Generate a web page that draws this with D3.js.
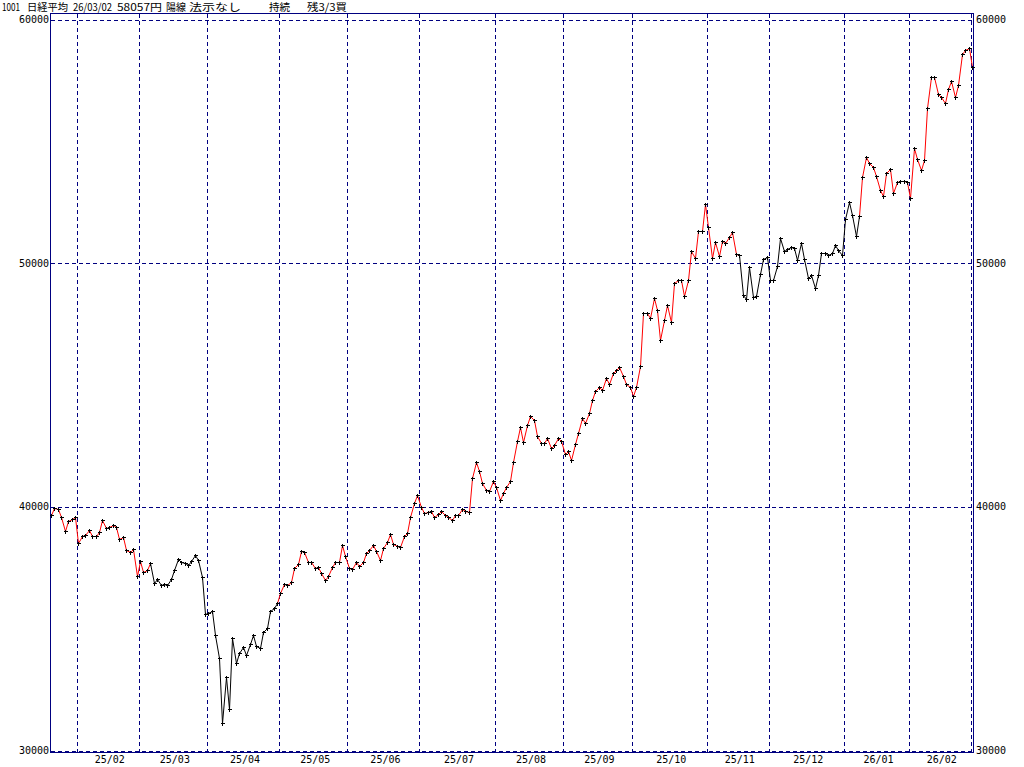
<!DOCTYPE html>
<html><head><meta charset="utf-8">
<script src="https://cdn.jsdelivr.net/npm/d3@7"></script>
<style>
html,body{margin:0;padding:0;background:#fff;overflow:hidden}
svg{display:block}
</style></head>
<body>
<svg id="c" width="1024" height="767"></svg>
<script>
// ---- data ----
const titleParts = ["1001", "日経平均", "26/03/02", "58057円", "陽線", "法示なし", "持続", "残3/3買"];
const dates = [
"25/01/22","25/01/23","25/01/24","25/01/27","25/01/28","25/01/29","25/01/30","25/01/31",
"25/02/03","25/02/04","25/02/05","25/02/06","25/02/07","25/02/10","25/02/12","25/02/13","25/02/14","25/02/17","25/02/18","25/02/19","25/02/20","25/02/21","25/02/25","25/02/26","25/02/27","25/02/28",
"25/03/03","25/03/04","25/03/05","25/03/06","25/03/07","25/03/10","25/03/11","25/03/12","25/03/13","25/03/14","25/03/17","25/03/18","25/03/19","25/03/21","25/03/24","25/03/25","25/03/26","25/03/27","25/03/28","25/03/31",
"25/04/01","25/04/02","25/04/03","25/04/04","25/04/07","25/04/08","25/04/09","25/04/10","25/04/11","25/04/14","25/04/15","25/04/16","25/04/17","25/04/18","25/04/21","25/04/22","25/04/23","25/04/24","25/04/25","25/04/28","25/04/30",
"25/05/01","25/05/02","25/05/07","25/05/08","25/05/09","25/05/12","25/05/13","25/05/14","25/05/15","25/05/16","25/05/19","25/05/20","25/05/21","25/05/22","25/05/23","25/05/26","25/05/27","25/05/28","25/05/29","25/05/30",
"25/06/02","25/06/03","25/06/04","25/06/05","25/06/06","25/06/09","25/06/10","25/06/11","25/06/12","25/06/13","25/06/16","25/06/17","25/06/18","25/06/19","25/06/20","25/06/23","25/06/24","25/06/25","25/06/26","25/06/27","25/06/30",
"25/07/01","25/07/02","25/07/03","25/07/04","25/07/07","25/07/08","25/07/09","25/07/10","25/07/11","25/07/14","25/07/15","25/07/16","25/07/17","25/07/18","25/07/22","25/07/23","25/07/24","25/07/25","25/07/28","25/07/29","25/07/30","25/07/31",
"25/08/01","25/08/04","25/08/05","25/08/06","25/08/07","25/08/08","25/08/12","25/08/13","25/08/14","25/08/15","25/08/18","25/08/19","25/08/20","25/08/21","25/08/22","25/08/25","25/08/26","25/08/27","25/08/28","25/08/29",
"25/09/01","25/09/02","25/09/03","25/09/04","25/09/05","25/09/08","25/09/09","25/09/10","25/09/11","25/09/12","25/09/16","25/09/17","25/09/18","25/09/19","25/09/22","25/09/24","25/09/25","25/09/26","25/09/29","25/09/30",
"25/10/01","25/10/02","25/10/03","25/10/06","25/10/07","25/10/08","25/10/09","25/10/10","25/10/14","25/10/15","25/10/16","25/10/17","25/10/20","25/10/21","25/10/22","25/10/23","25/10/24","25/10/27","25/10/28","25/10/29","25/10/30","25/10/31",
"25/11/04","25/11/05","25/11/06","25/11/07","25/11/10","25/11/11","25/11/12","25/11/13","25/11/14","25/11/17","25/11/18","25/11/19","25/11/20","25/11/21","25/11/25","25/11/26","25/11/27","25/11/28",
"25/12/01","25/12/02","25/12/03","25/12/04","25/12/05","25/12/08","25/12/09","25/12/10","25/12/11","25/12/12","25/12/15","25/12/16","25/12/17","25/12/18","25/12/19","25/12/22","25/12/23","25/12/24","25/12/25","25/12/26","25/12/29","25/12/30",
"26/01/05","26/01/06","26/01/07","26/01/08","26/01/09","26/01/13","26/01/14","26/01/15","26/01/16","26/01/19","26/01/20","26/01/21","26/01/22","26/01/23","26/01/26","26/01/27","26/01/28","26/01/29","26/01/30",
"26/02/02","26/02/03","26/02/04","26/02/05","26/02/06","26/02/09","26/02/10","26/02/12","26/02/13","26/02/16","26/02/17","26/02/18","26/02/19","26/02/20","26/02/24","26/02/25","26/02/26","26/02/27",
"26/03/02"];
const closes = [
39646,39958,39931,39566,39016,39415,39514,39572,
38520,38798,38831,39066,38787,38801,38963,39461,39149,39174,39270,39164,38678,38776,38237,38142,38256,37155,
37785,37331,37418,37704,36887,37028,36793,36819,36790,37053,37396,37845,37751,37677,37608,37780,38027,37799,37120,35617,
35624,35725,34736,33781,31136,33012,31714,34609,33586,33982,34268,33920,34377,34730,34280,34221,34869,35039,35705,35840,36045,
36452,36831,36780,36929,37503,37644,38183,38128,37756,37754,37498,37529,37299,36986,37160,37532,37724,37722,38433,37965,
37470,37447,37747,37554,37742,38089,38212,38421,38173,37834,38311,38537,38885,38488,38403,38355,38791,38942,39585,40150,40487,
39986,39762,39786,39811,39588,39688,39821,39646,39570,39460,39679,39663,39901,39819,39775,41171,41826,41456,40998,40675,40654,41070,
40800,40291,40550,40794,41059,41820,42718,43275,42649,43378,43714,43546,42888,42610,42633,42807,42394,42520,42829,42718,
42188,42310,41939,42580,43019,43644,43459,43838,44373,44768,44902,44790,45303,45046,45494,45630,45755,45355,45044,44933,
44551,44937,45770,47944,47951,47735,48580,48089,46847,47673,48278,47582,49186,49316,49308,48642,49300,50512,50220,51308,51326,52411,
51497,50212,50884,50276,50912,50843,51063,51282,50377,50324,48703,48538,49824,48626,48660,49560,50167,50254,
49303,49303,49865,51028,50492,50582,50656,50603,50149,50837,50168,49383,49512,49001,49507,50402,50413,50345,50408,50750,50527,50339,
51833,52518,51962,51117,51940,53549,54341,54110,53936,53584,52991,52775,53689,53847,52885,53333,53358,53376,53323,
52655,54721,54294,53818,54254,56364,57651,57640,56942,56806,56566,57144,57468,56826,57321,58583,58753,58850,
58057];
// signal state changes: from this date on, the position is buy (red) or sell (black)
const signalChanges = [["25/01/22","buy"],["25/03/07","sell"],["25/05/01","buy"],["25/11/18","sell"],["26/01/13","buy"]];
const yTicks = [30000, 40000, 50000, 60000];
const monthLabels = ["25/02","25/03","25/04","25/05","25/06","25/07","25/08","25/09","25/10","25/11","25/12","26/01","26/02"];

// ---- drawing ----
const svg = d3.select("#c");
const NAVY = "#000080";
const x = d3.scalePoint().domain(dates).range([51, 972]);
const y = d3.scaleLinear().domain([30000, 60000]).range([750.5, 19.5]);
const px = v => Math.round(v) + 0.5;

svg.append("rect").attr("width",1024).attr("height",767).attr("fill","#fff");

// horizontal dashed grid
svg.append("g").selectAll("line").data(yTicks).join("line")
  .attr("x1", 51).attr("x2", 973)
  .attr("y1", d => px(y(d))).attr("y2", d => px(y(d)))
  .attr("stroke", NAVY).attr("stroke-dasharray","4,3").attr("shape-rendering","crispEdges");

// month boundaries (first trading day of each month)
const firstOfMonth = dates.filter((d,i) => i>0 && d.slice(0,5) !== dates[i-1].slice(0,5));
svg.append("g").selectAll("line").data(firstOfMonth).join("line")
  .attr("x1", d => px(x(d)-1.4)).attr("x2", d => px(x(d)-1.4))
  .attr("y1", 14).attr("y2", 753)
  .attr("stroke", NAVY).attr("stroke-dasharray","4,3").attr("shape-rendering","crispEdges");

// frame
svg.append("rect").attr("x",50.5).attr("y",13.5).attr("width",923).attr("height",739)
  .attr("fill","none").attr("stroke",NAVY).attr("shape-rendering","crispEdges");

// y labels
const fnt = "'DejaVu Sans Mono', 'Liberation Mono', monospace";
svg.append("g").selectAll("text").data(yTicks).join("text")
  .attr("x", 49).attr("y", d => y(d)+3.5).attr("text-anchor","end")
  .attr("font-family", fnt).attr("font-size", 10).attr("fill","#000").text(d => d);
svg.append("g").selectAll("text").data(yTicks).join("text")
  .attr("x", 976).attr("y", d => y(d)+3.5).attr("text-anchor","start")
  .attr("font-family", fnt).attr("font-size", 10).attr("fill","#000").text(d => d);

// month labels: centred between boundaries
const bounds = firstOfMonth.map(d => x(d)-1.4).concat([x(dates[dates.length-1])-1.4]);
svg.append("g").selectAll("text").data(monthLabels).join("text")
  .attr("x", (d,i) => (bounds[i]+bounds[i+1])/2 + 2)
  .attr("y", 763).attr("text-anchor","middle")
  .attr("font-family", fnt).attr("font-size", 10).attr("fill","#000").text(d => d);

// title
const titleX = [2, 27, 73, 117, 166, 189, 269, 307];
const titleW = [18, 41, 39, 45, 20, 52, 21, 40];
svg.append("g").selectAll("text").data(titleParts).join("text")
  .attr("x", (d,i) => titleX[i]).attr("y", 10.5)
  .attr("textLength", (d,i) => titleW[i]).attr("lengthAdjust","spacingAndGlyphs")
  .attr("font-family","'Noto Sans CJK JP', sans-serif").attr("font-size", 10.5).attr("fill","#000")
  .text(d => d);

// state per point
const stateOf = dates.map(d => {
  let s = "buy";
  signalChanges.forEach(([cd, st]) => { if (d >= cd) s = st; });
  return s;
});
const pts = dates.map((d,i) => ({d, v: closes[i], s: stateOf[i]}));
const segs = pts.slice(1).map((p,i) => ({a: pts[i], b: p}));
const line = d3.line().x(p => px(x(p.d))).y(p => px(y(p.v)));
svg.append("g").selectAll("path").data(segs).join("path")
  .attr("d", s => line([s.a, s.b]))
  .attr("fill","none").attr("stroke", s => s.b.s === "buy" ? "#ff0000" : "#000")
  .attr("stroke-width", 1);

// + markers
svg.append("g").selectAll("path").data(pts).join("path")
  .attr("d", p => { const cx = px(x(p.d)), cy = px(y(p.v));
    return `M${cx-2},${cy}H${cx+2}M${cx},${cy-2}V${cy+2}`; })
  .attr("stroke","#000").attr("stroke-width",1).attr("fill","none")
  .attr("shape-rendering","crispEdges");
</script>
</body></html>
